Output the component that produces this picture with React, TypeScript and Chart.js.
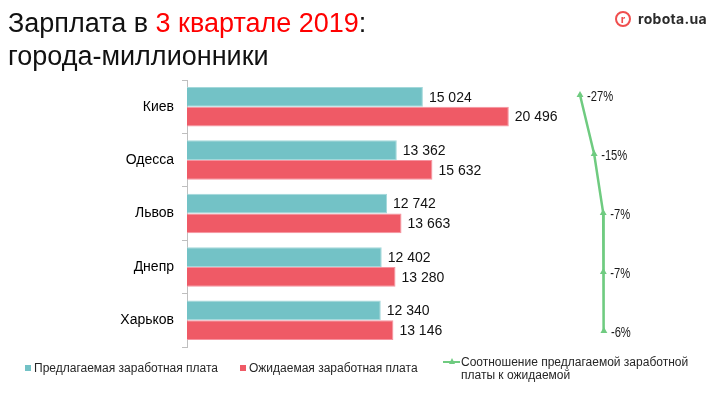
import React, { useEffect, useRef } from 'react';
import { Chart, registerables } from 'chart.js';

Chart.register(...registerables);

const cities = ['Киев', 'Одесса', 'Львов', 'Днепр', 'Харьков'];
const offered = [15024, 13362, 12742, 12402, 12340];
const expected = [20496, 15632, 13663, 13280, 13146];
const ratio = [-26.7, -14.5, -6.7, -6.6, -6.1];
const ratioLabels = ['-27%', '-15%', '-7%', '-7%', '-6%'];
const legendLabels = [
  'Предлагаемая заработная плата',
  'Ожидаемая заработная плата',
  'Соотношение предлагаемой заработной',
  'платы к ожидаемой',
];

const TEAL = '#73C2C6';
const RED = '#EF5A66';
const GREEN = '#6FCB80';
const FONT = "'Liberation Sans', Arial, sans-serif";

function fmt(n: number): string {
  return String(n).replace(/\B(?=(\d{3})+(?!\d))/g, ' ');
}

const barLabelPlugin = {
  id: 'barLabels',
  afterDatasetsDraw(chart: any) {
    const ctx = chart.ctx;
    ctx.save();
    ctx.textAlign = 'left';
    ctx.textBaseline = 'middle';
    ctx.font = `14px ${FONT}`;
    ctx.fillStyle = '#111';
    chart.data.datasets.forEach((ds: any, di: number) => {
      const meta = chart.getDatasetMeta(di);
      meta.data.forEach((el: any, i: number) => {
        ctx.fillText(fmt(ds.data[i]), el.x + 6, el.y + 1);
      });
    });
    ctx.restore();
  },
};

const lineLabelPlugin = {
  id: 'lineLabels',
  afterDatasetsDraw(chart: any) {
    const ctx = chart.ctx;
    const meta = chart.getDatasetMeta(0);
    meta.data.forEach((el: any, i: number) => {
      ctx.save();
      ctx.translate(el.x + 7, el.y + 2);
      ctx.scale(0.8, 1);
      ctx.textAlign = 'left';
      ctx.textBaseline = 'middle';
      ctx.font = `14px ${FONT}`;
      ctx.fillStyle = '#1a1a1a';
      ctx.fillText(ratioLabels[i], 0, 0);
      ctx.restore();
    });
  },
};

export default function App() {
  const barRef = useRef<HTMLCanvasElement | null>(null);
  const lineRef = useRef<HTMLCanvasElement | null>(null);

  useEffect(() => {
    if (!barRef.current || !lineRef.current) return;
    const bars = new Chart(barRef.current, {
      type: 'bar',
      data: {
        labels: cities,
        datasets: [
          {
            label: legendLabels[0],
            data: offered,
            backgroundColor: TEAL,
            borderColor: '#A3D8DA',
            borderWidth: 1,
            categoryPercentage: 0.74,
            barPercentage: 1.0,
          },
          {
            label: legendLabels[1],
            data: expected,
            backgroundColor: RED,
            borderColor: '#F594A0',
            borderWidth: 1,
            categoryPercentage: 0.74,
            barPercentage: 1.0,
          },
        ],
      },
      options: {
        indexAxis: 'y',
        responsive: false,
        animation: false,
        layout: { padding: { left: 0, right: 40, top: 80, bottom: 49 } },
        scales: {
          x: { type: 'linear', display: false, min: 0, max: 31400 },
          y: {
            type: 'category',
            offset: true,
            afterFit: (s: any) => {
              s.width = 187;
            },
            grid: {
              display: true,
              offset: true,
              drawOnChartArea: false,
              drawTicks: true,
              tickLength: 5,
              color: '#BFBFBF',
            },
            border: { display: true, color: '#BFBFBF', width: 1 },
            ticks: { font: { family: FONT, size: 14 }, color: '#000', padding: 8 },
          },
        },
        plugins: {
          legend: { display: false },
          tooltip: { enabled: false },
          title: { display: false },
        },
      },
      plugins: [barLabelPlugin],
    });

    const line = new Chart(lineRef.current, {
      type: 'line',
      data: {
        datasets: [
          {
            label: legendLabels[2],
            data: ratio.map((v, i) => ({ x: v, y: i })),
            borderColor: GREEN,
            backgroundColor: GREEN,
            borderWidth: 2.5,
            pointStyle: 'triangle',
            pointRadius: 4,
            pointBorderWidth: 0,
            pointBackgroundColor: GREEN,
            tension: 0,
            fill: false,
          },
        ],
      },
      options: {
        responsive: false,
        animation: false,
        layout: { padding: { left: 187, right: 40, top: 80, bottom: 49 } },
        scales: {
          x: { type: 'linear', display: false, min: -365.5, max: 59.5 },
          y: { type: 'linear', display: false, reverse: true, min: -0.254, max: 4.271 },
        },
        plugins: {
          legend: { display: false },
          tooltip: { enabled: false },
          title: { display: false },
        },
      },
      plugins: [lineLabelPlugin],
    });

    return () => {
      bars.destroy();
      line.destroy();
    };
  }, []);

  const legendText: React.CSSProperties = {
    position: 'absolute',
    fontFamily: FONT,
    fontSize: 12,
    color: '#262626',
    lineHeight: '13px',
    whiteSpace: 'nowrap',
  };

  return (
    <div
      style={{
        position: 'fixed',
        left: 0,
        top: 0,
        width: 720,
        height: 396,
        background: '#fff',
        overflow: 'hidden',
      }}
    >
      <canvas ref={barRef} width={720} height={396} style={{ position: 'absolute', left: 0, top: 0 }} />
      <canvas ref={lineRef} width={720} height={396} style={{ position: 'absolute', left: 0, top: 0 }} />
      <div
        style={{
          position: 'absolute',
          left: 8,
          top: 7,
          fontFamily: FONT,
          fontSize: 27,
          lineHeight: '33px',
          color: '#111',
          whiteSpace: 'nowrap',
        }}
      >
        <div>
          Зарплата в <span style={{ color: '#FF0000' }}>3 квартале 2019</span>:
        </div>
        <div>города-миллионники</div>
      </div>
      <div
        style={{
          position: 'absolute',
          left: 615,
          top: 11,
          width: 12,
          height: 12,
          border: '2px solid #F04E4E',
          borderRadius: '50%',
          color: '#F04E4E',
          fontFamily: "Inter, 'Liberation Sans', sans-serif",
          fontWeight: 700,
          fontSize: 11,
          lineHeight: '12px',
          textAlign: 'center',
        }}
      >
        r
      </div>
      <div
        style={{
          position: 'absolute',
          left: 638,
          top: 10,
          fontFamily: "Inter, 'Liberation Sans', sans-serif",
          fontWeight: 700,
          fontSize: 14,
          lineHeight: '18px',
          color: '#2b2b2b',
          letterSpacing: 0.3,
        }}
      >
        robota.ua
      </div>
      <div style={{ position: 'absolute', left: 25, top: 365, width: 6, height: 6, background: TEAL }} />
      <div style={{ ...legendText, left: 34, top: 362 }}>{legendLabels[0]}</div>
      <div style={{ position: 'absolute', left: 240, top: 365, width: 6, height: 6, background: RED }} />
      <div style={{ ...legendText, left: 249, top: 362 }}>{legendLabels[1]}</div>
      <div style={{ position: 'absolute', left: 443, top: 361, width: 17, height: 2, background: GREEN }} />
      <div
        style={{
          position: 'absolute',
          left: 449,
          top: 358,
          width: 0,
          height: 0,
          borderLeft: '3px solid transparent',
          borderRight: '3px solid transparent',
          borderBottom: '6px solid ' + GREEN,
        }}
      />
      <div style={{ ...legendText, left: 461, top: 356 }}>
        <div>{legendLabels[2]}</div>
        <div>{legendLabels[3]}</div>
      </div>
    </div>
  );
}
